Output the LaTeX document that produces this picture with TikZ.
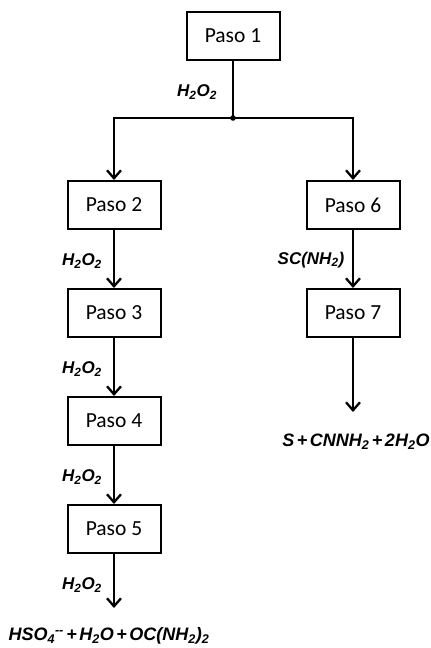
\documentclass[tikz,border=0pt]{standalone}
\usepackage{fontspec}
\setmainfont{Carlito}
\newfontfamily\chemfont{Liberation Sans}
\usetikzlibrary{arrows.meta}
\tikzset{
  stepbox/.style={draw, line width=2pt, minimum width=93pt, minimum height=48pt,
    inner sep=0pt, font=\fontsize{21.5}{24}\selectfont},
  flow/.style={line width=2.3pt, -{Straight Barb[length=8pt,width=14pt,line width=2.3pt]}},
  link/.style={line width=2.3pt},
  chem/.style={font=\chemfont\bfseries\itshape\fontsize{17}{19}\selectfont, inner sep=0pt},
  product/.style={font=\chemfont\bfseries\itshape\fontsize{18}{20}\selectfont, inner sep=0pt}
}
\newcommand\chsub[1]{\textsubscript{#1}}
\newcommand\plussign{\kern2.5pt+\kern2.5pt}
\begin{document}
\begin{tikzpicture}[x=1pt,y=-1pt]
  \useasboundingbox (0,0) rectangle (431,648);
  % process steps
  \node[stepbox] (p1) at (233,36) {Paso 1};
  \node[stepbox] (p2) at (114,205) {Paso 2};
  \node[stepbox] (p3) at (114,313) {Paso 3};
  \node[stepbox] (p4) at (114,421) {Paso 4};
  \node[stepbox] (p5) at (114,529) {Paso 5};
  \node[stepbox] (p6) at (353,205) {Paso 6};
  \node[stepbox] (p7) at (353,313) {Paso 7};
  % branching point below the first step
  \coordinate (j) at (233,118);
  \draw[link] (p1.south) -- (j);
  \fill (j) circle (2.8pt);
  \draw[flow] (j) -| (p2.north);
  \draw[flow] (j) -| (p6.north);
  % left chain
  \draw[flow] (p2) -- (p3);
  \draw[flow] (p3) -- (p4);
  \draw[flow] (p4) -- (p5);
  \coordinate (e5) at (114,608);
  \draw[flow] (p5.south) -- (e5);
  % right chain
  \draw[flow] (p6) -- (p7);
  \coordinate (e7) at (353,412);
  \draw[flow] (p7.south) -- (e7);
  % reagents
  \node[chem] (r1) at (197,92) {H\chsub{2}O\chsub{2}};
  \node[chem] (r2) at (82,261) {H\chsub{2}O\chsub{2}};
  \node[chem] (r3) at (82,369) {H\chsub{2}O\chsub{2}};
  \node[chem] (r4) at (82,477) {H\chsub{2}O\chsub{2}};
  \node[chem] (r5) at (82,585) {H\chsub{2}O\chsub{2}};
  \node[chem] (r6) at (311,260) {SC(NH\chsub{2})};
  % products
  \node[product] (f5) at (109,636) {HSO\chsub{4}\textsuperscript{--}\plussign H\chsub{2}O\plussign OC(NH\chsub{2})\chsub{2}};
  \node[product] (f7) at (356,442) {S\plussign CNNH\chsub{2}\plussign 2H\chsub{2}O};
\end{tikzpicture}
\end{document}
